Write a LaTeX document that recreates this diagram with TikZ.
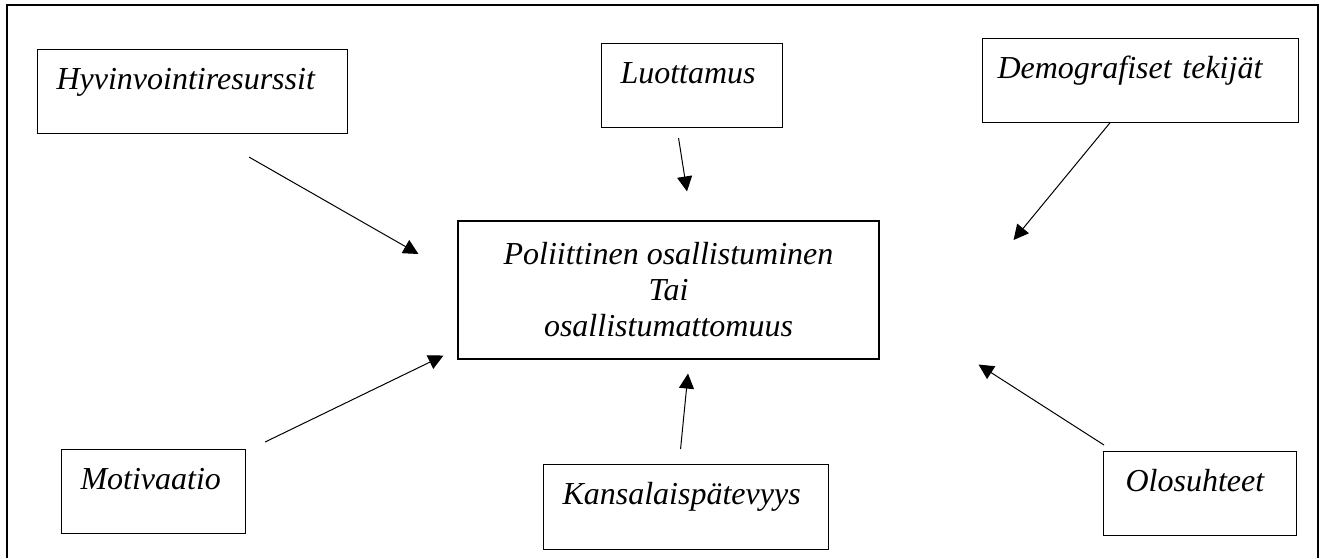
\documentclass[tikz,border=0pt]{standalone}
\usepackage{fontspec}
\setmainfont{Liberation Serif}
\usetikzlibrary{arrows.meta}

\begin{document}
\begin{tikzpicture}[
    x=1pt, y=-1pt,
    factor/.style={rectangle, draw=black, line width=1.1pt, anchor=north west, align=left, inner xsep=19pt, inner ysep=8pt, text height=32pt, text depth=36pt, font=\itshape\fontsize{32}{36}\selectfont},
    hub/.style={rectangle, draw=black, line width=1.1pt, minimum width=421pt, minimum height=138pt, align=center, font=\itshape\fontsize{32}{36}\selectfont},
    arrow/.style={line width=1pt, -{Triangle[length=15pt,width=15pt]}}
]
\useasboundingbox (0,0) rectangle (1325,558);

% Frame (open at the bottom)
\draw[line width=2.6pt] (7,558) -- (7,5) -- (1318,5) -- (1318,558);

% Central box
\node[hub] (pol) at (668.5,290) {Poliittinen osallistuminen\\Tai\\osallistumattomuus};

% Factors
\node[factor, text width=272pt] (hyv) at (37,49) {Hyvinvointiresurssit};
\node[factor, text width=143pt] (luo) at (601,43) {Luottamus};
\node[factor, inner xsep=15pt, text width=286pt] (dem) at (982,38) {Demografiset tekijät};
\node[factor, text width=146pt] (mot) at (61,449) {Motivaatio};
\node[factor, text width=247pt, text depth=37pt] (kan) at (543,464) {Kansalaispätevyys};
\node[factor, inner xsep=22pt, text width=149pt] (olo) at (1103,451) {Olosuhteet};

% Arrows towards the central box
\draw[arrow] ([shift={(-99,23)}]hyv.south east) -- ([shift={(-39,-36)}]pol.west);
\draw[arrow] ([shift={(-13.5,10)}]luo.south) -- ([shift={(18.5,-29)}]pol.north);
\draw[arrow] ([shift={(-30,-1)}]dem.south) -- ([shift={(134,-50)}]pol.east);
\draw[arrow] ([shift={(19,-7)}]mot.north east) -- ([shift={(-14,-4)}]pol.south west);
\draw[arrow] ([shift={(-5.5,-15)}]kan.north) -- ([shift={(19.5,14)}]pol.south);
\draw[arrow] ([shift={(1,-6)}]olo.north west) -- ([shift={(99,5)}]pol.south east);

\end{tikzpicture}
\end{document}
